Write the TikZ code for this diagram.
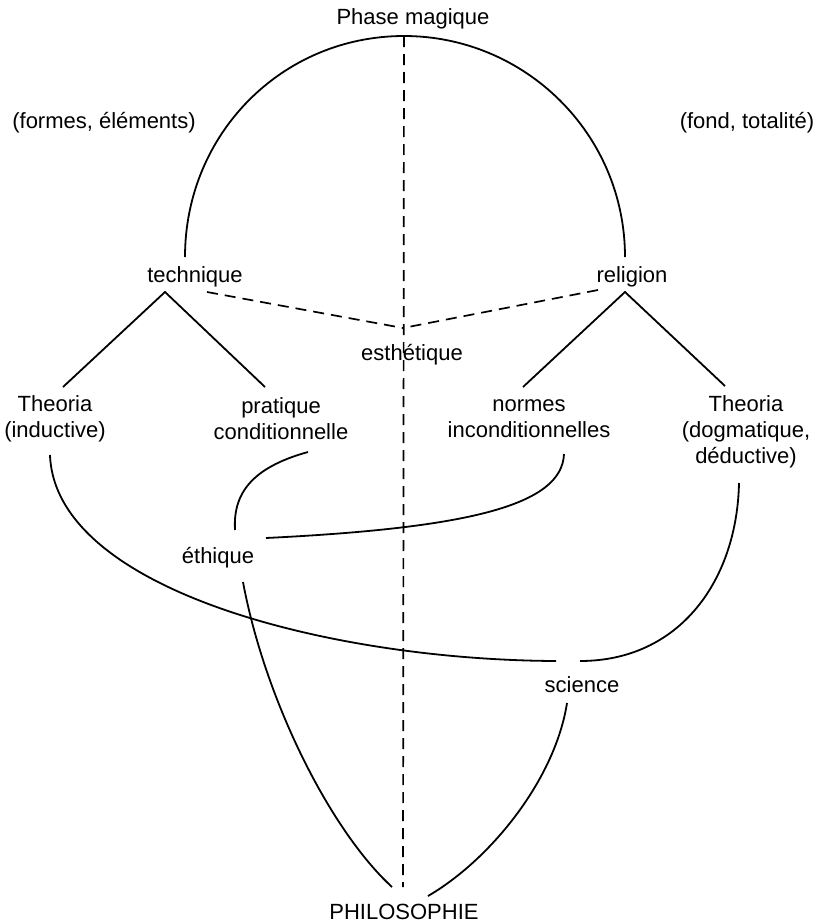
\documentclass[tikz,border=0pt]{standalone}
\usepackage{fontspec}
\setmainfont{Liberation Sans}
\usetikzlibrary{calc}
\tikzset{Link Line/.style = {line width = 1.8pt},
  Split Line/.style = {line width = 1.7pt, dash pattern = on 11pt off 7pt},
  Label/.style = {font = \fontsize{22}{26}\selectfont, align = center, inner sep = 0pt}}

\begin{document}
\begin{tikzpicture}[x = 1pt, y = -1pt]
  \useasboundingbox (0, 0) rectangle (815, 924);

  \node[Label] (magique) at (413, 19) {Phase magique};
  \node[Label] (formes) at (104, 123) {(formes, éléments)};
  \node[Label] (fond) at (747, 123) {(fond, totalité)};
  \node[Label] (technique) at (195, 277) {technique};
  \node[Label] (religion) at (632, 277) {religion};
  \node[Label] (esthetique) at (412, 355) {esthétique};
  \node[Label] (theoria ind) at (55, 419) {Theoria\\(inductive)};
  \node[Label] (pratique) at (281, 419) {pratique\\conditionnelle};
  \node[Label] (normes) at (529, 419) {normes\\inconditionnelles};
  \node[Label] (theoria dog) at (746, 432) {Theoria\\(dogmatique,\\déductive)};
  \node[Label] (ethique) at (218, 558) {éthique};
  \node[Label] (science) at (582, 685) {science};
  \node[Label] (philo) at (404, 912) {PHILOSOPHIE};

  \coordinate (arch L) at ($(technique) + (-10, -20)$);
  \coordinate (arch R) at ($(religion) + (-7, -20)$);
  \coordinate (apex) at ($(magique) + (-9, 17)$);
  \coordinate (axis end) at ($(philo) + (-1, -25)$);

  % la phase magique
  \draw[Link Line] (arch L) .. controls +(0, -123) and +(-122, 0) .. (apex)
  .. controls +(121, 0) and +(0, -123) .. (arch R);
  \draw[Split Line] (apex) -- (axis end);

  % esthetique
  \coordinate (meet) at ($(esthetique) + (-9, -27)$);
  \draw[Split Line] ($(technique) + (12, 15)$) coordinate (T2) -- (meet);
  \draw[Split Line] ($(religion) + (-34, 13)$) coordinate (R2) -- (meet);

  % branches
  \coordinate (T1) at ($(technique) + (-30, 15)$);
  \coordinate (R1) at ($(religion) + (-7, 15)$);
  \draw[Link Line] ($(theoria ind) + (8, -32)$) -- (T1) -- ($(pratique) + (-16, -32)$);
  \draw[Link Line] ($(normes) + (-6, -32)$) -- (R1) -- ($(theoria dog) + (-21, -46)$);

  % vers l'ethique
  \draw[Link Line] ($(pratique) + (27, 33)$) .. controls (250, 468) and (233, 495) ..
  ($(ethique) + (17, -28)$);
  \draw[Link Line] ($(normes) + (35, 35)$) .. controls (562, 505) and (470, 528) ..
  ($(ethique) + (48, -20)$);

  % vers la science
  \draw[Link Line] ($(theoria ind) + (-5, 36)$) .. controls (55, 590) and (330, 660) ..
  ($(science) + (-26, -24)$);
  \draw[Link Line] ($(theoria dog) + (-7, 51)$) .. controls (737, 580) and (680, 661) ..
  ($(science) + (-2, -24)$);

  % vers la philosophie
  \draw[Link Line] ($(ethique) + (25, 24)$) .. controls (265, 700) and (330, 830) ..
  ($(philo) + (-12, -25)$);
  \draw[Link Line] ($(science) + (-15, 18)$) .. controls (555, 780) and (490, 860) ..
  ($(philo) + (24, -16)$);
\end{tikzpicture}
\end{document}
